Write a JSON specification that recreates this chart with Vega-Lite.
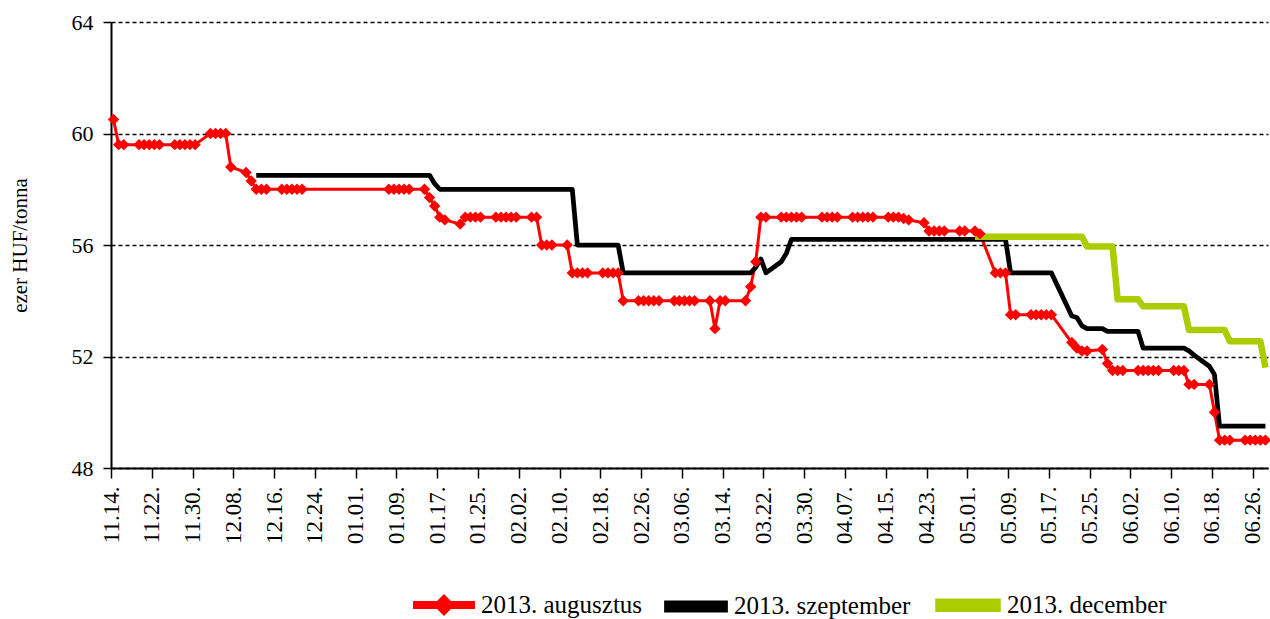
{
  "$schema": "https://vega.github.io/schema/vega-lite/v6.json",
  "width": 1157,
  "height": 446,
  "autosize": {"type": "none"},
  "padding": {"left": 111, "top": 22, "right": 2, "bottom": 151},
  "background": "white",
  "config": {"view": {"stroke": null}, "font": "Liberation Serif"},
  "data": {"values": [
    {"s":"2013. augusztus","t":"2012-11-14T12:00","v":60.5},
    {"s":"2013. augusztus","t":"2012-11-15T12:00","v":59.6},
    {"s":"2013. augusztus","t":"2012-11-16T12:00","v":59.6},
    {"s":"2013. augusztus","t":"2012-11-19T12:00","v":59.6},
    {"s":"2013. augusztus","t":"2012-11-20T12:00","v":59.6},
    {"s":"2013. augusztus","t":"2012-11-21T12:00","v":59.6},
    {"s":"2013. augusztus","t":"2012-11-22T12:00","v":59.6},
    {"s":"2013. augusztus","t":"2012-11-23T12:00","v":59.6},
    {"s":"2013. augusztus","t":"2012-11-26T12:00","v":59.6},
    {"s":"2013. augusztus","t":"2012-11-27T12:00","v":59.6},
    {"s":"2013. augusztus","t":"2012-11-28T12:00","v":59.6},
    {"s":"2013. augusztus","t":"2012-11-29T12:00","v":59.6},
    {"s":"2013. augusztus","t":"2012-11-30T12:00","v":59.6},
    {"s":"2013. augusztus","t":"2012-12-03T12:00","v":60.0},
    {"s":"2013. augusztus","t":"2012-12-04T12:00","v":60.0},
    {"s":"2013. augusztus","t":"2012-12-05T12:00","v":60.0},
    {"s":"2013. augusztus","t":"2012-12-06T12:00","v":60.0},
    {"s":"2013. augusztus","t":"2012-12-07T12:00","v":58.8},
    {"s":"2013. augusztus","t":"2012-12-10T12:00","v":58.6},
    {"s":"2013. augusztus","t":"2012-12-11T12:00","v":58.3},
    {"s":"2013. augusztus","t":"2012-12-12T12:00","v":58.0},
    {"s":"2013. augusztus","t":"2012-12-13T12:00","v":58.0},
    {"s":"2013. augusztus","t":"2012-12-14T12:00","v":58.0},
    {"s":"2013. augusztus","t":"2012-12-17T12:00","v":58.0},
    {"s":"2013. augusztus","t":"2012-12-18T12:00","v":58.0},
    {"s":"2013. augusztus","t":"2012-12-19T12:00","v":58.0},
    {"s":"2013. augusztus","t":"2012-12-20T12:00","v":58.0},
    {"s":"2013. augusztus","t":"2012-12-21T12:00","v":58.0},
    {"s":"2013. augusztus","t":"2013-01-07T12:00","v":58.0},
    {"s":"2013. augusztus","t":"2013-01-08T12:00","v":58.0},
    {"s":"2013. augusztus","t":"2013-01-09T12:00","v":58.0},
    {"s":"2013. augusztus","t":"2013-01-10T12:00","v":58.0},
    {"s":"2013. augusztus","t":"2013-01-11T12:00","v":58.0},
    {"s":"2013. augusztus","t":"2013-01-14T12:00","v":58.0},
    {"s":"2013. augusztus","t":"2013-01-15T12:00","v":57.7},
    {"s":"2013. augusztus","t":"2013-01-16T12:00","v":57.4},
    {"s":"2013. augusztus","t":"2013-01-17T12:00","v":57.0},
    {"s":"2013. augusztus","t":"2013-01-18T12:00","v":56.9},
    {"s":"2013. augusztus","t":"2013-01-21T12:00","v":56.75},
    {"s":"2013. augusztus","t":"2013-01-22T12:00","v":57.0},
    {"s":"2013. augusztus","t":"2013-01-23T12:00","v":57.0},
    {"s":"2013. augusztus","t":"2013-01-24T12:00","v":57.0},
    {"s":"2013. augusztus","t":"2013-01-25T12:00","v":57.0},
    {"s":"2013. augusztus","t":"2013-01-28T12:00","v":57.0},
    {"s":"2013. augusztus","t":"2013-01-29T12:00","v":57.0},
    {"s":"2013. augusztus","t":"2013-01-30T12:00","v":57.0},
    {"s":"2013. augusztus","t":"2013-01-31T12:00","v":57.0},
    {"s":"2013. augusztus","t":"2013-02-01T12:00","v":57.0},
    {"s":"2013. augusztus","t":"2013-02-04T12:00","v":57.0},
    {"s":"2013. augusztus","t":"2013-02-05T12:00","v":57.0},
    {"s":"2013. augusztus","t":"2013-02-06T12:00","v":56.0},
    {"s":"2013. augusztus","t":"2013-02-07T12:00","v":56.0},
    {"s":"2013. augusztus","t":"2013-02-08T12:00","v":56.0},
    {"s":"2013. augusztus","t":"2013-02-11T12:00","v":56.0},
    {"s":"2013. augusztus","t":"2013-02-12T12:00","v":55.0},
    {"s":"2013. augusztus","t":"2013-02-13T12:00","v":55.0},
    {"s":"2013. augusztus","t":"2013-02-14T12:00","v":55.0},
    {"s":"2013. augusztus","t":"2013-02-15T12:00","v":55.0},
    {"s":"2013. augusztus","t":"2013-02-18T12:00","v":55.0},
    {"s":"2013. augusztus","t":"2013-02-19T12:00","v":55.0},
    {"s":"2013. augusztus","t":"2013-02-20T12:00","v":55.0},
    {"s":"2013. augusztus","t":"2013-02-21T12:00","v":55.0},
    {"s":"2013. augusztus","t":"2013-02-22T12:00","v":54.0},
    {"s":"2013. augusztus","t":"2013-02-25T12:00","v":54.0},
    {"s":"2013. augusztus","t":"2013-02-26T12:00","v":54.0},
    {"s":"2013. augusztus","t":"2013-02-27T12:00","v":54.0},
    {"s":"2013. augusztus","t":"2013-02-28T12:00","v":54.0},
    {"s":"2013. augusztus","t":"2013-03-01T12:00","v":54.0},
    {"s":"2013. augusztus","t":"2013-03-04T12:00","v":54.0},
    {"s":"2013. augusztus","t":"2013-03-05T12:00","v":54.0},
    {"s":"2013. augusztus","t":"2013-03-06T12:00","v":54.0},
    {"s":"2013. augusztus","t":"2013-03-07T12:00","v":54.0},
    {"s":"2013. augusztus","t":"2013-03-08T12:00","v":54.0},
    {"s":"2013. augusztus","t":"2013-03-11T12:00","v":54.0},
    {"s":"2013. augusztus","t":"2013-03-12T12:00","v":53.0},
    {"s":"2013. augusztus","t":"2013-03-13T12:00","v":54.0},
    {"s":"2013. augusztus","t":"2013-03-14T12:00","v":54.0},
    {"s":"2013. augusztus","t":"2013-03-18T12:00","v":54.0},
    {"s":"2013. augusztus","t":"2013-03-19T12:00","v":54.5},
    {"s":"2013. augusztus","t":"2013-03-20T12:00","v":55.4},
    {"s":"2013. augusztus","t":"2013-03-21T12:00","v":57.0},
    {"s":"2013. augusztus","t":"2013-03-22T12:00","v":57.0},
    {"s":"2013. augusztus","t":"2013-03-25T12:00","v":57.0},
    {"s":"2013. augusztus","t":"2013-03-26T12:00","v":57.0},
    {"s":"2013. augusztus","t":"2013-03-27T12:00","v":57.0},
    {"s":"2013. augusztus","t":"2013-03-28T12:00","v":57.0},
    {"s":"2013. augusztus","t":"2013-03-29T12:00","v":57.0},
    {"s":"2013. augusztus","t":"2013-04-02T12:00","v":57.0},
    {"s":"2013. augusztus","t":"2013-04-03T12:00","v":57.0},
    {"s":"2013. augusztus","t":"2013-04-04T12:00","v":57.0},
    {"s":"2013. augusztus","t":"2013-04-05T12:00","v":57.0},
    {"s":"2013. augusztus","t":"2013-04-08T12:00","v":57.0},
    {"s":"2013. augusztus","t":"2013-04-09T12:00","v":57.0},
    {"s":"2013. augusztus","t":"2013-04-10T12:00","v":57.0},
    {"s":"2013. augusztus","t":"2013-04-11T12:00","v":57.0},
    {"s":"2013. augusztus","t":"2013-04-12T12:00","v":57.0},
    {"s":"2013. augusztus","t":"2013-04-15T12:00","v":57.0},
    {"s":"2013. augusztus","t":"2013-04-16T12:00","v":57.0},
    {"s":"2013. augusztus","t":"2013-04-17T12:00","v":57.0},
    {"s":"2013. augusztus","t":"2013-04-18T12:00","v":56.95},
    {"s":"2013. augusztus","t":"2013-04-19T12:00","v":56.9},
    {"s":"2013. augusztus","t":"2013-04-22T12:00","v":56.8},
    {"s":"2013. augusztus","t":"2013-04-23T12:00","v":56.5},
    {"s":"2013. augusztus","t":"2013-04-24T12:00","v":56.5},
    {"s":"2013. augusztus","t":"2013-04-25T12:00","v":56.5},
    {"s":"2013. augusztus","t":"2013-04-26T12:00","v":56.5},
    {"s":"2013. augusztus","t":"2013-04-29T12:00","v":56.5},
    {"s":"2013. augusztus","t":"2013-04-30T12:00","v":56.5},
    {"s":"2013. augusztus","t":"2013-05-02T12:00","v":56.5},
    {"s":"2013. augusztus","t":"2013-05-03T12:00","v":56.4},
    {"s":"2013. augusztus","t":"2013-05-06T12:00","v":55.0},
    {"s":"2013. augusztus","t":"2013-05-07T12:00","v":55.0},
    {"s":"2013. augusztus","t":"2013-05-08T12:00","v":55.0},
    {"s":"2013. augusztus","t":"2013-05-09T12:00","v":53.5},
    {"s":"2013. augusztus","t":"2013-05-10T12:00","v":53.5},
    {"s":"2013. augusztus","t":"2013-05-13T12:00","v":53.5},
    {"s":"2013. augusztus","t":"2013-05-14T12:00","v":53.5},
    {"s":"2013. augusztus","t":"2013-05-15T12:00","v":53.5},
    {"s":"2013. augusztus","t":"2013-05-16T12:00","v":53.5},
    {"s":"2013. augusztus","t":"2013-05-17T12:00","v":53.5},
    {"s":"2013. augusztus","t":"2013-05-21T12:00","v":52.5},
    {"s":"2013. augusztus","t":"2013-05-22T12:00","v":52.3},
    {"s":"2013. augusztus","t":"2013-05-23T12:00","v":52.2},
    {"s":"2013. augusztus","t":"2013-05-24T12:00","v":52.2},
    {"s":"2013. augusztus","t":"2013-05-27T12:00","v":52.25},
    {"s":"2013. augusztus","t":"2013-05-28T12:00","v":51.75},
    {"s":"2013. augusztus","t":"2013-05-29T12:00","v":51.5},
    {"s":"2013. augusztus","t":"2013-05-30T12:00","v":51.5},
    {"s":"2013. augusztus","t":"2013-05-31T12:00","v":51.5},
    {"s":"2013. augusztus","t":"2013-06-03T12:00","v":51.5},
    {"s":"2013. augusztus","t":"2013-06-04T12:00","v":51.5},
    {"s":"2013. augusztus","t":"2013-06-05T12:00","v":51.5},
    {"s":"2013. augusztus","t":"2013-06-06T12:00","v":51.5},
    {"s":"2013. augusztus","t":"2013-06-07T12:00","v":51.5},
    {"s":"2013. augusztus","t":"2013-06-10T12:00","v":51.5},
    {"s":"2013. augusztus","t":"2013-06-11T12:00","v":51.5},
    {"s":"2013. augusztus","t":"2013-06-12T12:00","v":51.5},
    {"s":"2013. augusztus","t":"2013-06-13T12:00","v":51.0},
    {"s":"2013. augusztus","t":"2013-06-14T12:00","v":51.0},
    {"s":"2013. augusztus","t":"2013-06-17T12:00","v":51.0},
    {"s":"2013. augusztus","t":"2013-06-18T12:00","v":50.0},
    {"s":"2013. augusztus","t":"2013-06-19T12:00","v":49.0},
    {"s":"2013. augusztus","t":"2013-06-20T12:00","v":49.0},
    {"s":"2013. augusztus","t":"2013-06-21T12:00","v":49.0},
    {"s":"2013. augusztus","t":"2013-06-24T12:00","v":49.0},
    {"s":"2013. augusztus","t":"2013-06-25T12:00","v":49.0},
    {"s":"2013. augusztus","t":"2013-06-26T12:00","v":49.0},
    {"s":"2013. augusztus","t":"2013-06-27T12:00","v":49.0},
    {"s":"2013. augusztus","t":"2013-06-28T12:00","v":49.0},
    {"s":"2013. szeptember","t":"2012-12-12T12:00","v":58.5},
    {"s":"2013. szeptember","t":"2013-01-15T12:00","v":58.5},
    {"s":"2013. szeptember","t":"2013-01-16T12:00","v":58.2},
    {"s":"2013. szeptember","t":"2013-01-17T12:00","v":58.0},
    {"s":"2013. szeptember","t":"2013-02-12T12:00","v":58.0},
    {"s":"2013. szeptember","t":"2013-02-13T12:00","v":56.0},
    {"s":"2013. szeptember","t":"2013-02-21T12:00","v":56.0},
    {"s":"2013. szeptember","t":"2013-02-22T12:00","v":55.0},
    {"s":"2013. szeptember","t":"2013-03-19T12:00","v":55.0},
    {"s":"2013. szeptember","t":"2013-03-20T12:00","v":55.2},
    {"s":"2013. szeptember","t":"2013-03-21T12:00","v":55.5},
    {"s":"2013. szeptember","t":"2013-03-22T12:00","v":55.0},
    {"s":"2013. szeptember","t":"2013-03-25T12:00","v":55.4},
    {"s":"2013. szeptember","t":"2013-03-26T12:00","v":55.7},
    {"s":"2013. szeptember","t":"2013-03-27T12:00","v":56.2},
    {"s":"2013. szeptember","t":"2013-05-08T12:00","v":56.2},
    {"s":"2013. szeptember","t":"2013-05-09T12:00","v":55.0},
    {"s":"2013. szeptember","t":"2013-05-17T12:00","v":55.0},
    {"s":"2013. szeptember","t":"2013-05-21T12:00","v":53.45},
    {"s":"2013. szeptember","t":"2013-05-22T12:00","v":53.4},
    {"s":"2013. szeptember","t":"2013-05-23T12:00","v":53.1},
    {"s":"2013. szeptember","t":"2013-05-24T12:00","v":53.0},
    {"s":"2013. szeptember","t":"2013-05-27T12:00","v":53.0},
    {"s":"2013. szeptember","t":"2013-05-28T12:00","v":52.9},
    {"s":"2013. szeptember","t":"2013-06-03T12:00","v":52.9},
    {"s":"2013. szeptember","t":"2013-06-04T12:00","v":52.3},
    {"s":"2013. szeptember","t":"2013-06-12T12:00","v":52.3},
    {"s":"2013. szeptember","t":"2013-06-13T12:00","v":52.2},
    {"s":"2013. szeptember","t":"2013-06-14T12:00","v":52.05},
    {"s":"2013. szeptember","t":"2013-06-17T12:00","v":51.65},
    {"s":"2013. szeptember","t":"2013-06-18T12:00","v":51.35},
    {"s":"2013. szeptember","t":"2013-06-19T12:00","v":49.5},
    {"s":"2013. szeptember","t":"2013-06-28T12:00","v":49.5},
    {"s":"2013. december","t":"2013-05-02T12:00","v":56.3},
    {"s":"2013. december","t":"2013-05-23T12:00","v":56.3},
    {"s":"2013. december","t":"2013-05-24T12:00","v":55.95},
    {"s":"2013. december","t":"2013-05-29T12:00","v":55.95},
    {"s":"2013. december","t":"2013-05-30T12:00","v":54.05},
    {"s":"2013. december","t":"2013-06-03T12:00","v":54.05},
    {"s":"2013. december","t":"2013-06-04T12:00","v":53.8},
    {"s":"2013. december","t":"2013-06-12T12:00","v":53.8},
    {"s":"2013. december","t":"2013-06-13T12:00","v":52.95},
    {"s":"2013. december","t":"2013-06-20T12:00","v":52.95},
    {"s":"2013. december","t":"2013-06-21T12:00","v":52.55},
    {"s":"2013. december","t":"2013-06-27T12:00","v":52.55},
    {"s":"2013. december","t":"2013-06-28T12:00","v":51.6}
  ]},
  "encoding": {
    "x": {
      "field": "t", "type": "temporal",
      "scale": {"domain": [{"year": 2012, "month": 11, "date": 14}, {"year": 2013, "month": 6, "date": 29}], "nice": false},
      "axis": {
        "title": null, "grid": false, "format": "%m.%d.", "labelAngle": -90,
        "labelFont": "Liberation Serif", "labelFontSize": 23, "labelColor": "black",
        "labelPadding": 8, "labelOverlap": false,
        "tickSize": 10, "tickColor": "black", "tickWidth": 1.5,
        "domainColor": "black", "domainWidth": 2,
        "values": [
          {"year":2012,"month":11,"date":14},{"year":2012,"month":11,"date":22},{"year":2012,"month":11,"date":30},
          {"year":2012,"month":12,"date":8},{"year":2012,"month":12,"date":16},{"year":2012,"month":12,"date":24},
          {"year":2013,"month":1,"date":1},{"year":2013,"month":1,"date":9},{"year":2013,"month":1,"date":17},
          {"year":2013,"month":1,"date":25},{"year":2013,"month":2,"date":2},{"year":2013,"month":2,"date":10},
          {"year":2013,"month":2,"date":18},{"year":2013,"month":2,"date":26},{"year":2013,"month":3,"date":6},
          {"year":2013,"month":3,"date":14},{"year":2013,"month":3,"date":22},{"year":2013,"month":3,"date":30},
          {"year":2013,"month":4,"date":7},{"year":2013,"month":4,"date":15},{"year":2013,"month":4,"date":23},
          {"year":2013,"month":5,"date":1},{"year":2013,"month":5,"date":9},{"year":2013,"month":5,"date":17},
          {"year":2013,"month":5,"date":25},{"year":2013,"month":6,"date":2},{"year":2013,"month":6,"date":10},
          {"year":2013,"month":6,"date":18},{"year":2013,"month":6,"date":26}
        ]
      }
    },
    "y": {
      "field": "v", "type": "quantitative",
      "scale": {"domain": [48, 64], "nice": false, "zero": false},
      "axis": {
        "values": [48, 52, 56, 60, 64],
        "title": "ezer HUF/tonna", "titleFont": "Liberation Serif", "titleFontSize": 21,
        "titleFontWeight": "normal", "titleColor": "black", "titleX": -91, "titleY": 223,
        "titleBaseline": "middle", "titleAngle": -90,
        "labelFont": "Liberation Serif", "labelFontSize": 22, "labelColor": "black", "labelPadding": 10,
        "tickSize": 8, "tickColor": "black", "tickWidth": 1.5,
        "domainColor": "black", "domainWidth": 2,
        "grid": true, "gridColor": "black", "gridDash": [4, 3], "gridWidth": 1.5
      }
    }
  },
  "layer": [
    {
      "mark": {"type": "line", "strokeJoin": "round", "strokeCap": "butt"},
      "encoding": {
        "color": {
          "field": "s", "type": "nominal",
          "scale": {"domain": ["2013. augusztus", "2013. szeptember", "2013. december"], "range": ["#FF0000", "#000000", "#AACC00"]},
          "legend": {
            "orient": "none", "legendX": 302, "legendY": 550, "direction": "horizontal", "title": null,
            "symbolSize": 3481, "labelFont": "Liberation Serif", "labelFontSize": 25, "labelColor": "black",
            "labelOffset": 6, "columnPadding": 14, "labelLimit": 0,
            "encode": {"symbols": {"update": {
              "shape": {"signal": "datum.value === '2013. augusztus' ? 'M-1,-0.085H1V0.085H-1Z M0,-0.3L0.3,0L0,0.3L-0.3,0Z' : 'M-1,-0.12H1V0.12H-1Z'"},
              "fill": {"scale": "color", "field": "value"},
              "fillOpacity": {"value": 1},
              "stroke": {"value": "transparent"},
              "strokeWidth": {"value": 0}
            }}}
          }
        },
        "strokeWidth": {
          "field": "s", "type": "nominal",
          "scale": {"domain": ["2013. augusztus", "2013. szeptember", "2013. december"], "range": [3, 6.5, 6.5]},
          "legend": null
        }
      }
    },
    {
      "transform": [{"filter": "datum.s === '2013. augusztus'"}],
      "mark": {"type": "point", "shape": "diamond", "filled": true, "size": 130, "color": "#FF0000", "opacity": 1}
    }
  ]
}
